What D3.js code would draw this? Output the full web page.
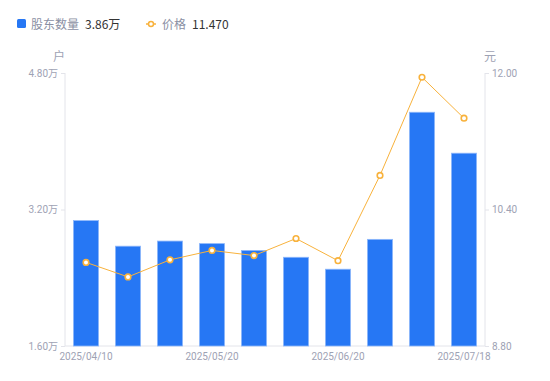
<!DOCTYPE html>
<html><head><meta charset="utf-8">
<script src="https://cdn.jsdelivr.net/npm/d3@7"></script>
<style>body{margin:0;background:#fff;font-family:"Noto Sans CJK SC","Noto Sans",sans-serif;}</style>
</head><body><svg id="c" width="550" height="381"></svg>
<script>
const categories = ["2025/04/10","2025/04/18","2025/04/30","2025/05/20","2025/05/30","2025/06/10","2025/06/20","2025/06/30","2025/07/10","2025/07/18"];
const holders = [3.07,2.77,2.83,2.80,2.72,2.64,2.50,2.85,4.34,3.86];
const prices = [9.78,9.61,9.81,9.92,9.86,10.06,9.80,10.80,11.95,11.47];
const leftTicks = [1.6,3.2,4.8];
const rightTicks = [8.8,10.4,12.0];
const xLabels = ["2025/04/10","2025/05/20","2025/06/20","2025/07/18"];

const svg = d3.select("#c");
const L=65,R=485,T=73,B=346;
const x = d3.scaleBand().domain(categories).range([L,R]).paddingInner(0.4).paddingOuter(0.2);
const yL = d3.scaleLinear().domain([1.6,4.8]).range([B,T]);
const yR = d3.scaleLinear().domain([8.8,12]).range([B,T]);
const axisColor="#e3e4ea", labelColor="#9ea2b4";

// axes lines
const gL = svg.append("g").attr("transform",`translate(${L},0)`)
  .call(d3.axisLeft(yL).tickValues(leftTicks).tickSize(4).tickPadding(3).tickFormat(d=>d3.format(".2f")(d)+"万"));
const gR = svg.append("g").attr("transform",`translate(${R},0)`)
  .call(d3.axisRight(yR).tickValues(rightTicks).tickSize(4).tickPadding(3).tickFormat(d3.format(".2f")));
const gB = svg.append("g").attr("transform",`translate(0,${B})`)
  .call(d3.axisBottom(x).tickValues(xLabels).tickSize(0).tickPadding(7));
[gL,gR,gB].forEach(g=>{
  g.selectAll("path").attr("stroke",axisColor);
  g.selectAll("line").attr("stroke",axisColor);
  g.selectAll("text").attr("fill",labelColor).attr("font-size",10).attr("font-family","Roboto,'Noto Sans CJK SC',sans-serif");
});
gL.select("path").attr("d",`M0,${T}V${B}`);
gR.select("path").attr("d",`M0,${T}V${B}`);
gB.select("path").attr("d",`M${L},0H${R}`);

svg.append("text").attr("x",59).attr("y",61).attr("text-anchor","middle").attr("fill",labelColor).attr("font-size",12).text("户");
svg.append("text").attr("x",490).attr("y",61).attr("text-anchor","middle").attr("fill",labelColor).attr("font-size",12).text("元");

// bars
svg.append("g").selectAll("rect").data(holders).join("rect")
  .attr("x",(d,i)=>x(categories[i]))
  .attr("y",d=>yL(d))
  .attr("width",x.bandwidth())
  .attr("height",d=>B-yL(d))
  .attr("fill","#2677f4")
  .attr("stroke","#8fb8fb").attr("stroke-width",0.8);

// line
const lineColor="#f8b23c";
const line = d3.line().x((d,i)=>x(categories[i])+x.bandwidth()/2).y(d=>yR(d));
svg.append("path").datum(prices).attr("d",line).attr("fill","none").attr("stroke",lineColor).attr("stroke-width",1);
svg.append("g").selectAll("circle").data(prices).join("circle")
  .attr("cx",(d,i)=>x(categories[i])+x.bandwidth()/2)
  .attr("cy",d=>yR(d)).attr("r",2.8)
  .attr("fill","#fff").attr("stroke",lineColor).attr("stroke-width",1.6);

// legend
const lg = svg.append("g");
lg.append("rect").attr("x",17).attr("y",19).attr("width",9).attr("height",9).attr("rx",1.5).attr("fill","#2677f4");
lg.append("text").attr("x",31).attr("y",29).attr("font-size",12).attr("fill","#8a8fa3").text("股东数量");
lg.append("text").attr("x",85).attr("y",29).attr("font-size",12).attr("fill","#333").text("3.86万");
lg.append("line").attr("x1",146).attr("x2",156).attr("y1",24).attr("y2",24).attr("stroke",lineColor).attr("stroke-width",1.5);
lg.append("circle").attr("cx",151).attr("cy",24).attr("r",2.5).attr("fill","#fff").attr("stroke",lineColor).attr("stroke-width",1.5);
lg.append("text").attr("x",162).attr("y",29).attr("font-size",12).attr("fill","#8a8fa3").text("价格");
lg.append("text").attr("x",192).attr("y",29).attr("font-size",12).attr("fill","#333").text("11.470");
</script></body></html>
